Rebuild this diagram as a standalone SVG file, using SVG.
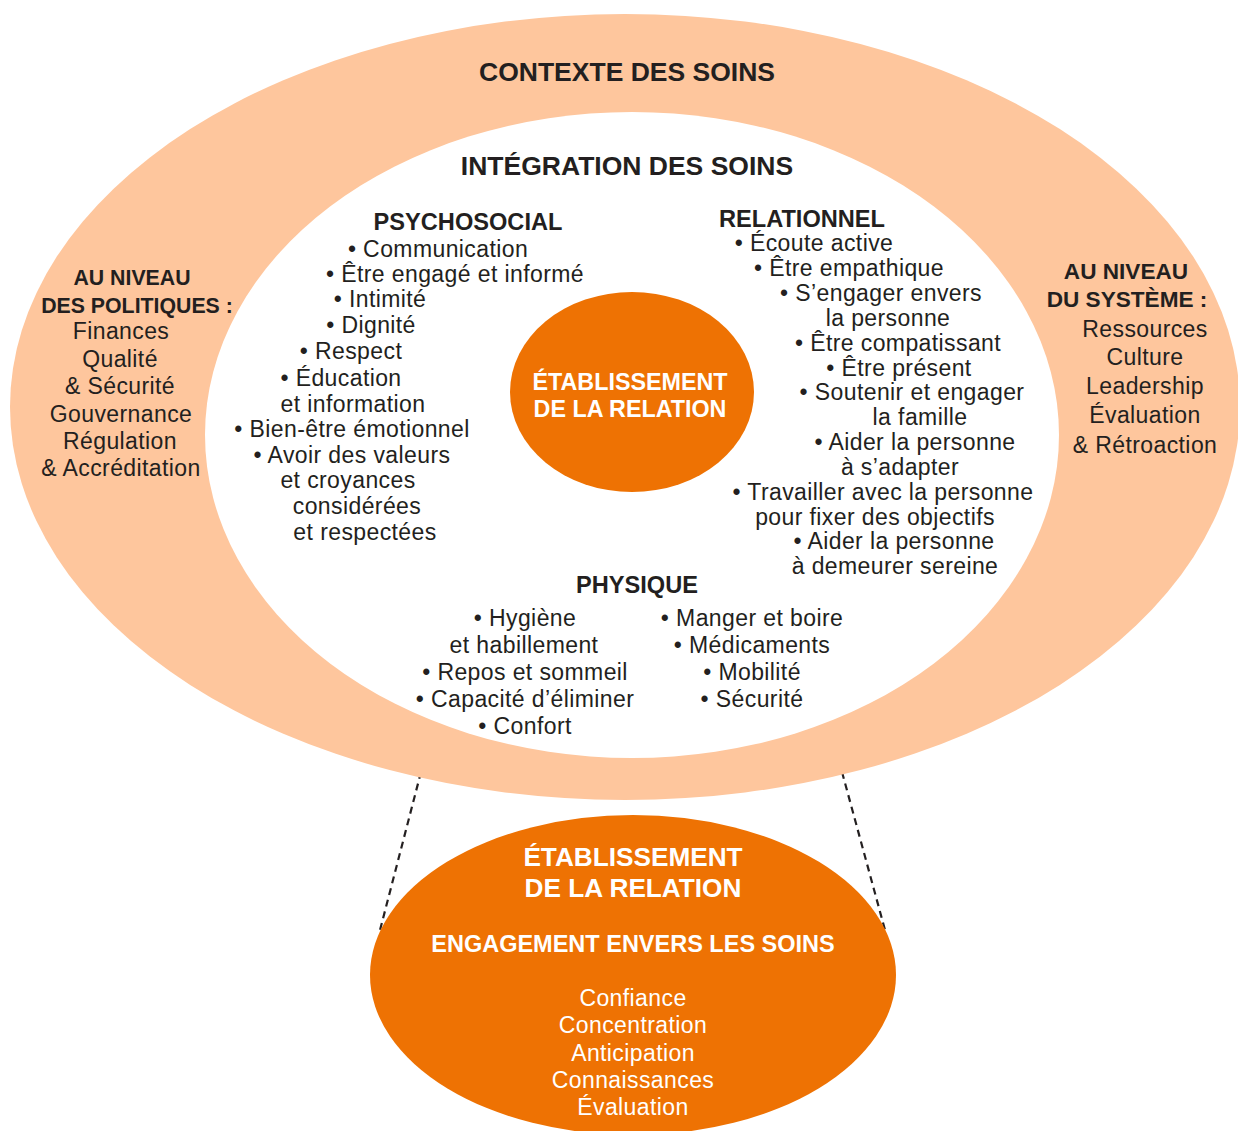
<svg xmlns="http://www.w3.org/2000/svg" width="1238" height="1131" viewBox="0 0 1238 1131">
<style>
.t{font-family:"Liberation Sans",Arial,Helvetica,sans-serif;fill:#231f20;text-anchor:middle}
.h{font-weight:bold;font-size:21.3px}
.hr{font-weight:bold;font-size:22.6px}
.s{font-weight:bold;font-size:23.6px}
.b{font-size:23px;letter-spacing:0.4px}
.w{fill:#ffffff}
.dash{stroke:#231f20;stroke-width:2.2;stroke-dasharray:7 5;fill:none}
</style>
<rect width="1238" height="1131" fill="#ffffff"/>
<g id="connectors">
<line class="dash" x1="421" y1="772" x2="379" y2="934"/>
<line class="dash" x1="842" y1="772" x2="885" y2="930"/>
</g>
<g id="contexte">
<ellipse cx="625" cy="407" rx="615" ry="393" fill="#fec69d"/>
<text class="t" x="627" y="81" font-weight="bold" font-size="26.5">CONTEXTE DES SOINS</text>
</g>
<g id="politiques">
<text class="t h" x="132" y="285">AU NIVEAU</text>
<text class="t h" x="137" y="313">DES POLITIQUES :</text>
<text class="t b" x="121" y="339">Finances</text>
<text class="t b" x="120" y="367">Qualité</text>
<text class="t b" x="120" y="394">&amp; Sécurité</text>
<text class="t b" x="121" y="422">Gouvernance</text>
<text class="t b" x="120" y="449">Régulation</text>
<text class="t b" x="121" y="476">&amp; Accréditation</text>
</g>
<g id="systeme">
<text class="t hr" x="1126" y="279">AU NIVEAU</text>
<text class="t hr" x="1127" y="307">DU SYSTÈME :</text>
<text class="t b" x="1145" y="337">Ressources</text>
<text class="t b" x="1145" y="365">Culture</text>
<text class="t b" x="1145" y="394">Leadership</text>
<text class="t b" x="1145" y="423">Évaluation</text>
<text class="t b" x="1145" y="453">&amp; Rétroaction</text>
</g>
<g id="integration">
<ellipse cx="632" cy="435" rx="427" ry="323" fill="#ffffff"/>
<text class="t" x="627" y="175" font-weight="bold" font-size="26.5">INTÉGRATION DES SOINS</text>
</g>
<g id="psychosocial">
<text class="t s" x="468" y="230">PSYCHOSOCIAL</text>
<text class="t b" x="438" y="257">• Communication</text>
<text class="t b" x="455" y="282">• Être engagé et informé</text>
<text class="t b" x="380" y="307">• Intimité</text>
<text class="t b" x="371" y="333">• Dignité</text>
<text class="t b" x="351" y="359">• Respect</text>
<text class="t b" x="341" y="386">• Éducation</text>
<text class="t b" x="353" y="412">et information</text>
<text class="t b" x="352" y="437">• Bien-être émotionnel</text>
<text class="t b" x="352" y="463">• Avoir des valeurs</text>
<text class="t b" x="348" y="488">et croyances</text>
<text class="t b" x="357" y="514">considérées</text>
<text class="t b" x="365" y="540">et respectées</text>
</g>
<g id="relationnel">
<text class="t s" x="802" y="227">RELATIONNEL</text>
<text class="t b" x="814" y="251">• Écoute active</text>
<text class="t b" x="849" y="276">• Être empathique</text>
<text class="t b" x="881" y="301">• S’engager envers</text>
<text class="t b" x="888" y="326">la personne</text>
<text class="t b" x="898" y="351">• Être compatissant</text>
<text class="t b" x="899" y="376">• Être présent</text>
<text class="t b" x="912" y="400">• Soutenir et engager</text>
<text class="t b" x="920" y="425">la famille</text>
<text class="t b" x="915" y="450">• Aider la personne</text>
<text class="t b" x="900" y="475">à s’adapter</text>
<text class="t b" x="883" y="500">• Travailler avec la personne</text>
<text class="t b" x="875" y="525">pour fixer des objectifs</text>
<text class="t b" x="894" y="549">• Aider la personne</text>
<text class="t b" x="895" y="574">à demeurer sereine</text>
</g>
<g id="physique">
<text class="t s" x="637" y="593">PHYSIQUE</text>
<text class="t b" x="525" y="626">• Hygiène</text>
<text class="t b" x="524" y="653">et habillement</text>
<text class="t b" x="525" y="680">• Repos et sommeil</text>
<text class="t b" x="525" y="707">• Capacité d’éliminer</text>
<text class="t b" x="525" y="734">• Confort</text>
<text class="t b" x="752" y="626">• Manger et boire</text>
<text class="t b" x="752" y="653">• Médicaments</text>
<text class="t b" x="752" y="680">• Mobilité</text>
<text class="t b" x="752" y="707">• Sécurité</text>
</g>
<g id="relation-centre">
<ellipse cx="632" cy="392" rx="122" ry="100" fill="#ee7203"/>
<text class="t w" x="630" y="390" font-weight="bold" font-size="23.3">ÉTABLISSEMENT</text>
<text class="t w" x="630" y="417" font-weight="bold" font-size="23.3">DE LA RELATION</text>
</g>
<g id="relation-detail">
<ellipse cx="633" cy="975" rx="263" ry="160" fill="#ee7203"/>
<text class="t w" x="633" y="866" font-weight="bold" font-size="26.2">ÉTABLISSEMENT</text>
<text class="t w" x="633" y="897" font-weight="bold" font-size="26.2">DE LA RELATION</text>
<text class="t w" x="633" y="952" font-weight="bold" font-size="23.5">ENGAGEMENT ENVERS LES SOINS</text>
<text class="t b w" x="633" y="1006">Confiance</text>
<text class="t b w" x="633" y="1033">Concentration</text>
<text class="t b w" x="633" y="1061">Anticipation</text>
<text class="t b w" x="633" y="1088">Connaissances</text>
<text class="t b w" x="633" y="1115">Évaluation</text>
</g>
</svg>
